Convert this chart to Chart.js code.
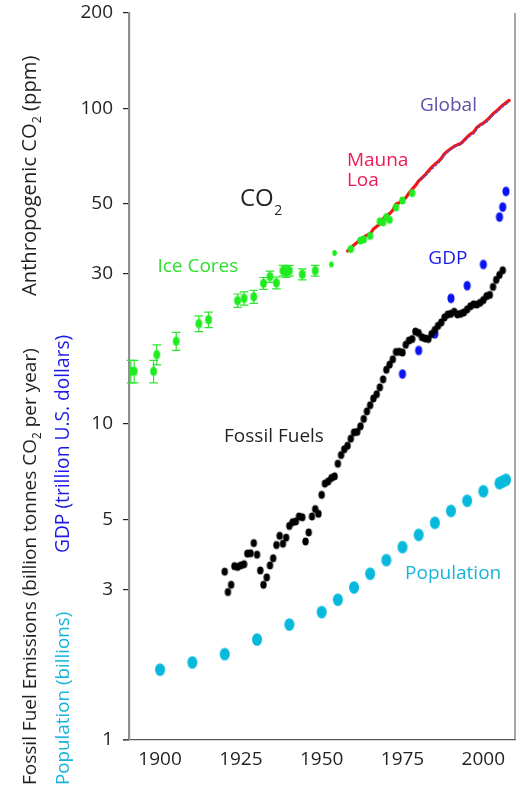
<!DOCTYPE html>
<html>
<head>
<meta charset="utf-8">
<title>Anthropogenic CO2, fossil fuel emissions, GDP and population</title>
<script src="https://cdn.jsdelivr.net/npm/chart.js@4"></script>
<style>
  html, body { margin: 0; padding: 0; background: #fff; }
  canvas { display: block; }
</style>
</head>
<body>
<canvas id="chart" width="523" height="787"></canvas>
<script>
// Axis ticks
const yearTicks = [1900, 1925, 1950, 1975, 2000];
const valueTicks = [1, 3, 5, 10, 30, 50, 100, 200];

// Ice core CO2 above the pre-industrial 280 ppm (ppm), with uncertainty (ppm)
const iceCoreYears = [1891, 1892, 1898, 1899, 1905, 1912, 1915, 1924, 1926, 1929, 1932, 1934, 1936, 1938, 1939, 1940, 1944, 1948,
  1953, 1954, 1959, 1962, 1963, 1965, 1968, 1969, 1970, 1971, 1973, 1975, 1978];
const iceCoreCO2 = [14.7, 14.7, 14.7, 16.6, 18.3, 20.8, 21.4, 24.6, 25.0, 25.3, 27.9, 29.3, 28.0, 30.6, 30.3, 30.6, 29.8, 30.6,
  32.0, 34.8, 35.8, 38.1, 38.4, 39.4, 43.8, 43.5, 45.2, 44.3, 48.5, 51.0, 53.8];
const iceCoreError = [1.2, 1.2, 1.2, 1.2, 1.2, 1.2, 1.2, 1.2, 1.2, 1.2, 1.2, 1.2, 1.2, 1.2, 1.2, 1.2, 1.2, 1.2,
  null, null, null, null, null, null, null, null, null, null, null, null, null];

// Mauna Loa annual mean CO2 above 280 ppm
const maunaLoaYears = [1958, 1959, 1960, 1961, 1962, 1963, 1964, 1965, 1966, 1967, 1968, 1969, 1970, 1971, 1972, 1973, 1974,
  1975, 1976, 1977, 1978, 1979, 1980, 1981, 1982, 1983, 1984, 1985, 1986, 1987, 1988, 1989, 1990, 1991, 1992, 1993, 1994,
  1995, 1996, 1997, 1998, 1999, 2000, 2001, 2002, 2003, 2004, 2005, 2006, 2007, 2008];
const maunaLoaCO2 = [35.3, 36.0, 36.9, 37.6, 38.5, 39.0, 39.6, 40.0, 41.4, 42.2, 43.0, 44.6, 45.7, 46.3, 47.5, 49.7, 50.2,
  51.1, 52.0, 53.8, 55.4, 56.8, 58.8, 60.1, 61.5, 63.2, 64.9, 66.4, 67.6, 69.3, 71.7, 73.2, 74.5, 75.7, 76.5, 77.2, 79.0,
  81.0, 82.7, 83.9, 86.8, 88.5, 89.7, 91.3, 93.5, 96.0, 97.7, 100.0, 102.1, 104.0, 105.8];

// Global mean CO2 above 280 ppm
const globalYears = [1980, 1981, 1982, 1983, 1984, 1985, 1986, 1987, 1988, 1989, 1990, 1991, 1992, 1993, 1994, 1995, 1996,
  1997, 1998, 1999, 2000, 2001, 2002, 2003, 2004, 2005, 2006, 2007, 2008];
const globalCO2 = [58.9, 60.1, 60.9, 62.5, 64.1, 65.5, 67.0, 68.7, 71.2, 72.8, 74.1, 75.4, 76.1, 76.8, 78.3, 80.2, 81.9,
  83.1, 85.7, 87.8, 89.0, 90.6, 92.6, 95.2, 97.0, 99.0, 101.2, 102.9, 105.0];

// Fossil fuel emissions (billion tonnes CO2 per year)
const fossilYears = [1920, 1921, 1922, 1923, 1924, 1925, 1926, 1927, 1928, 1929, 1930, 1931, 1932, 1933, 1934, 1935, 1936,
  1937, 1938, 1939, 1940, 1941, 1942, 1943, 1944, 1945, 1946, 1947, 1948, 1949, 1950, 1951, 1952, 1953, 1954, 1955, 1956,
  1957, 1958, 1959, 1960, 1961, 1962, 1963, 1964, 1965, 1966, 1967, 1968, 1969, 1970, 1971, 1972, 1973, 1974, 1975, 1976,
  1977, 1978, 1979, 1980, 1981, 1982, 1983, 1984, 1985, 1986, 1987, 1988, 1989, 1990, 1991, 1992, 1993, 1994, 1995, 1996,
  1997, 1998, 1999, 2000, 2001, 2002, 2003, 2004, 2005, 2006];
const fossilEmissions = [3.41, 2.94, 3.10, 3.55, 3.53, 3.57, 3.60, 3.89, 3.90, 4.20, 3.86, 3.44, 3.10, 3.27, 3.57, 3.76, 4.14,
  4.43, 4.18, 4.37, 4.76, 4.89, 4.92, 5.10, 5.07, 4.25, 4.54, 5.10, 5.38, 5.20, 5.97, 6.48, 6.58, 6.75, 6.83, 7.49, 7.98,
  8.32, 8.54, 8.99, 9.41, 9.45, 9.84, 10.38, 10.97, 11.47, 12.05, 12.43, 13.07, 13.85, 14.85, 15.42, 16.03, 16.91, 16.94, 16.84, 17.82,
  18.38, 18.59, 19.63, 19.42, 18.83, 18.66, 18.59, 19.27, 19.85, 20.46, 20.98, 21.75, 22.23, 22.34, 22.66, 22.24, 22.34, 22.56, 23.07, 23.59,
  23.93, 23.90, 24.20, 24.68, 25.40, 25.63, 27.17, 28.60, 29.65, 30.67];

// World GDP (trillion U.S. dollars)
const gdpYears = [1975, 1980, 1985, 1990, 1995, 2000, 2005, 2006, 2007];
const gdpTrillions = [14.4, 17.1, 19.3, 25.0, 27.4, 32.0, 45.2, 48.6, 54.5];

// World population (billions)
const populationYears = [1900, 1910, 1920, 1930, 1940, 1950, 1955, 1960, 1965, 1970, 1975, 1980, 1985, 1990, 1995, 2000,
  2005, 2006, 2007];
const populationBillions = [1.67, 1.76, 1.87, 2.08, 2.32, 2.54, 2.78, 3.04, 3.36, 3.71, 4.08, 4.46, 4.87, 5.31, 5.72, 6.13,
  6.50, 6.58, 6.66];

const FONT = '"Open Sans", "Noto Sans", sans-serif';
const INK = '#231f20';

// Oval marker drawn once and reused as a point style
function oval(rx, ry, color) {
  const c = document.createElement('canvas');
  c.width = Math.ceil(rx * 2) + 2;
  c.height = Math.ceil(ry * 2) + 2;
  const g = c.getContext('2d');
  g.fillStyle = color;
  g.beginPath();
  g.ellipse(c.width / 2, c.height / 2, rx, ry, 0, 0, Math.PI * 2);
  g.fill();
  return c;
}

const toPoints = (xs, ys) => xs.map((x, i) => ({ x, y: ys[i] }));

// Text with "2" subscripts, drawn left to right from (0,0) on the current transform
function drawRuns(ctx, runs, size) {
  let x = 0;
  for (const r of runs) {
    const s = r.sub ? size * 0.62 : size;
    ctx.font = `${s}px ${FONT}`;
    ctx.fillText(r.t, x, r.sub ? size * 0.27 : 0);
    x += ctx.measureText(r.t).width;
  }
  return x;
}

const sub2 = (before, after) => [{ t: before }, { t: '2', sub: true }, { t: after }];

// Rotated axis titles in the left margin: [runs, colour, font size, baseline x, start y]
const axisTitles = [
  [sub2('Anthropogenic CO', ' (ppm)'), INK, 20.2, 35.5, 296],
  [sub2('Fossil Fuel Emissions (billion tonnes CO', ' per year)'), INK, 19, 35.5, 785],
  [[{ t: 'GDP (trillion U.S. dollars)' }], '#1a1ae6', 19.2, 69, 553],
  [[{ t: 'Population (billions)' }], '#17b5dc', 18.8, 69, 785]
];

// Series labels inside the plot: text, colour, year and value at the text's left baseline
const seriesLabels = [
  ['Global', '#5b4fa6', 1980.4, 98],
  ['Mauna', '#ee1a55', 1957.8, 65.5],
  ['Loa', '#ee1a55', 1957.8, 56.6],
  ['Ice Cores', '#2ede2e', 1899.2, 30.3],
  ['GDP', '#1a1ae6', 1983.0, 32.2],
  ['Fossil Fuels', INK, 1919.8, 8.78],
  ['Population', '#17b5dc', 1975.8, 3.23]
];

const errorBars = {
  id: 'errorBars',
  beforeDatasetDraw(chart, args) {
    const ds = chart.data.datasets[args.index];
    if (!ds.errors) return;
    const { x: xs, y: ys } = chart.scales;
    const ctx = chart.ctx;
    ctx.save();
    ctx.strokeStyle = ds.errorColor;
    ctx.lineWidth = 1.2;
    ds.data.forEach((p, i) => {
      const e = ds.errors[i];
      if (e == null) return;
      const px = xs.getPixelForValue(p.x);
      const top = ys.getPixelForValue(p.y + e);
      const bot = ys.getPixelForValue(p.y - e);
      ctx.beginPath();
      ctx.moveTo(px, top); ctx.lineTo(px, bot);
      ctx.moveTo(px - 4.3, top); ctx.lineTo(px + 4.3, top);
      ctx.moveTo(px - 4.3, bot); ctx.lineTo(px + 4.3, bot);
      ctx.stroke();
    });
    ctx.restore();
  }
};

const decorations = {
  id: 'decorations',
  afterDraw(chart) {
    const ctx = chart.ctx;
    const area = chart.chartArea;
    const { x: xs, y: ys } = chart.scales;
    ctx.save();

    // right-hand frame line
    ctx.strokeStyle = '#6d6e71';
    ctx.lineWidth = 1.2;
    ctx.beginPath();
    ctx.moveTo(area.right, area.top);
    ctx.lineTo(area.right, area.bottom);
    ctx.stroke();

    // bottom axis line continues under the lowest y tick
    ctx.strokeStyle = '#58595b';
    ctx.lineWidth = 1.3;
    ctx.beginPath();
    ctx.moveTo(area.left - 6, area.bottom);
    ctx.lineTo(area.left, area.bottom);
    ctx.stroke();

    // series labels
    ctx.textBaseline = 'alphabetic';
    ctx.textAlign = 'left';
    for (const [text, color, yr, val] of seriesLabels) {
      ctx.fillStyle = color;
      ctx.font = `19px ${FONT}`;
      ctx.fillText(text, xs.getPixelForValue(yr), ys.getPixelForValue(val));
    }

    // CO2 panel heading
    ctx.save();
    ctx.translate(xs.getPixelForValue(1924.7), ys.getPixelForValue(48.9));
    ctx.fillStyle = INK;
    ctx.font = `24px ${FONT}`;
    ctx.fillText('CO', 0, 0);
    const w = ctx.measureText('CO').width;
    ctx.font = `14px ${FONT}`;
    ctx.fillText('2', w + 0.5, 8.5);
    ctx.restore();

    // rotated axis titles
    for (const [runs, color, size, bx, sy] of axisTitles) {
      ctx.save();
      ctx.translate(bx, sy);
      ctx.rotate(-Math.PI / 2);
      ctx.fillStyle = color;
      drawRuns(ctx, runs, size);
      ctx.restore();
    }
    ctx.restore();
  }
};

function build() {
  const iceStyles = iceCoreYears.map((_, i) =>
    i < 18 ? oval(3.4, 4.6, '#1eec1e') : (i < 20 ? oval(2.3, 3.0, '#1eec1e') : oval(3.2, 4.1, '#1eec1e')));

  new Chart(document.getElementById('chart'), {
    type: 'scatter',
    data: {
      datasets: [
        {
          label: 'Population',
          data: toPoints(populationYears, populationBillions),
          pointStyle: oval(5.0, 6.3, '#06b9dd'),
          pointRadius: 5,
          order: 5
        },
        {
          label: 'GDP',
          data: toPoints(gdpYears, gdpTrillions),
          pointStyle: oval(3.6, 4.8, '#0a14f0'),
          pointRadius: 4,
          order: 4
        },
        {
          label: 'Fossil Fuels',
          data: toPoints(fossilYears, fossilEmissions),
          pointStyle: oval(3.2, 4.1, '#000000'),
          pointRadius: 4,
          order: 3
        },
        {
          label: 'Mauna Loa',
          data: toPoints(maunaLoaYears, maunaLoaCO2),
          showLine: true,
          borderColor: '#f41414',
          borderWidth: 3.2,
          borderCapStyle: 'round',
          borderJoinStyle: 'round',
          tension: 0,
          pointRadius: 0,
          order: 2
        },
        {
          label: 'Global',
          data: toPoints(globalYears, globalCO2),
          showLine: true,
          borderColor: '#5a4fbf',
          borderWidth: 2,
          borderDash: [2, 2.5],
          tension: 0,
          pointRadius: 0,
          order: 1
        },
        {
          label: 'Ice Cores',
          data: toPoints(iceCoreYears, iceCoreCO2),
          errors: iceCoreError,
          errorColor: '#2fe52f',
          pointStyle: iceStyles,
          pointRadius: 4,
          order: 0
        }
      ]
    },
    options: {
      responsive: false,
      animation: false,
      events: [],
      layout: { padding: { top: 13, right: 8, bottom: 0, left: 0 } },
      plugins: { legend: { display: false }, tooltip: { enabled: false } },
      scales: {
        x: {
          type: 'linear',
          min: 1890.4,
          max: 2009.8,
          afterBuildTicks: s => { s.ticks = yearTicks.map(v => ({ value: v })); },
          afterFit: s => { s.height = 47; s.paddingLeft = 0; s.paddingRight = 0; },
          ticks: {
            callback: v => String(v),
            font: { family: FONT, size: 19 },
            color: INK,
            padding: 0,
            maxRotation: 0,
            autoSkip: false
          },
          grid: { display: false },
          border: { display: true, color: '#58595b', width: 1.3 }
        },
        y: {
          type: 'logarithmic',
          min: 1,
          max: 200,
          afterBuildTicks: s => { s.ticks = valueTicks.map(v => ({ value: v })); },
          afterFit: s => { s.width = 129; s.paddingTop = 0; s.paddingBottom = 0; },
          ticks: {
            callback: v => String(v),
            font: { family: FONT, size: 19 },
            color: INK,
            padding: 10,
            autoSkip: false
          },
          grid: { display: true, drawOnChartArea: false, drawTicks: true, tickLength: 6, color: INK, lineWidth: 1.2 },
          border: { display: true, color: '#8d8e90', width: 2.2 }
        }
      }
    },
    plugins: [errorBars, decorations]
  });
}

if (document.fonts && document.fonts.load) {
  Promise.all([document.fonts.load(`19px ${FONT}`), document.fonts.load(`24px ${FONT}`)])
    .then(build, build);
} else {
  build();
}
</script>
</body>
</html>
